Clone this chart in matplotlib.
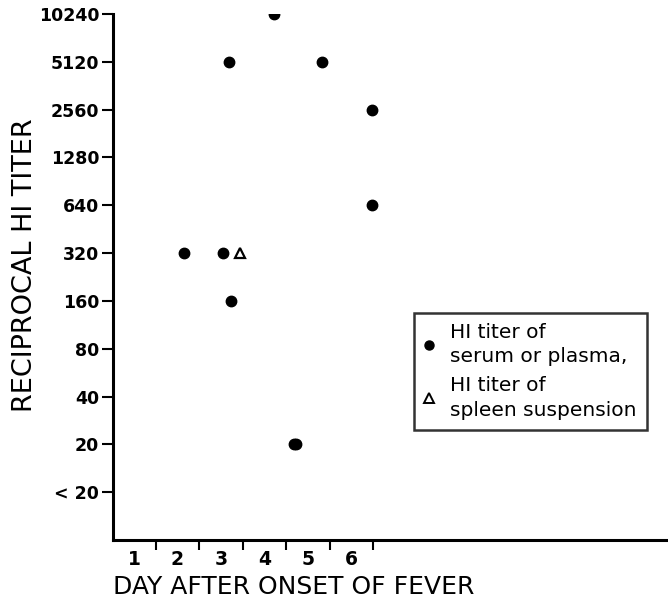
import matplotlib
matplotlib.use("Agg")
import matplotlib.pyplot as plt
from matplotlib.lines import Line2D

# Data (titer 10 stands for "<20")
serum_day = [4.23, 3.18, 5.33, 6.46, 6.46, 2.15, 3.04, 3.22, 4.67, 4.72]
serum_titer = [10240, 5120, 5120, 2560, 640, 320, 320, 160, 20, 20]
spleen_day = [3.43]
spleen_titer = [320]

ytick_vals = [10, 20, 40, 80, 160, 320, 640, 1280, 2560, 5120, 10240]
ytick_labels = ["< 20", "20", "40", "80", "160", "320", "640", "1280", "2560", "5120", "10240"]
xtick_days = [1, 2, 3, 4, 5, 6]
xtick_labels = ["1", "2", "3", "4", "5", "6"]
xsep = [1.5, 2.5, 3.5, 4.5, 5.5, 6.5]

plt.rcParams['font.family'] = ['DejaVu Sans']

fig = plt.figure(figsize=(6.68, 6.04), dpi=100)
W, H = 668, 604
ax = fig.add_axes([113 / W, (H - 540) / H, (W - 113) / W, (540 - 14) / H])

ax.set_yscale('log', base=2)
ax.set_ylim(5, 10240)
ax.set_xlim(0.52, 13.27)

ax.plot(serum_day, serum_titer, 'o', color='black', markersize=7.5, linestyle='none')
ax.plot(spleen_day, spleen_titer, '^', markerfacecolor='white', markeredgecolor='black',
        markeredgewidth=1.6, markersize=7, linestyle='none')

for s in ['top', 'right']:
    ax.spines[s].set_visible(False)
for s in ['left', 'bottom']:
    ax.spines[s].set_linewidth(2.2)

ax.set_yticks(ytick_vals)
ax.set_yticklabels(ytick_labels, fontsize=12.5, fontweight='bold')
ax.yaxis.set_minor_locator(matplotlib.ticker.NullLocator())
ax.tick_params(axis='y', length=8, width=1.5, pad=2)

ax.set_xticks(xsep)
ax.set_xticklabels([""] * len(xsep))
ax.set_xticks(xtick_days, minor=True)
ax.set_xticklabels(xtick_labels, minor=True, fontsize=13.5, fontweight='bold')
ax.tick_params(axis='x', which='major', length=7, width=1.5)
ax.tick_params(axis='x', which='minor', length=0, pad=7)

fig.text(294 / W, 1 - 587 / H, "DAY AFTER ONSET OF FEVER", ha='center', va='center', fontsize=18)
fig.text(25 / W, 1 - 265 / H, "RECIPROCAL HI TITER", ha='center', va='center', fontsize=19.5, rotation=90)

handles = [
    Line2D([], [], marker='o', color='black', markersize=6.5, linestyle='none'),
    Line2D([], [], marker='^', markerfacecolor='white', markeredgecolor='black',
           markeredgewidth=1.4, markersize=6.5, linestyle='none'),
]
labels = ["HI titer of\nserum or plasma,", "HI titer of\nspleen suspension"]
leg = fig.legend(handles, labels, loc='upper left', bbox_to_anchor=(414 / W, 1 - 313 / H),
                 frameon=True, fancybox=False, fontsize=14.5, handlelength=0.5,
                 handletextpad=0.8, borderpad=0.5, labelspacing=0.5, borderaxespad=0)
for t in leg.get_texts():
    t.set_linespacing(1.35)
leg.get_frame().set_edgecolor('black')
leg.get_frame().set_linewidth(1.8)

fig.savefig("out.png", dpi=100)
